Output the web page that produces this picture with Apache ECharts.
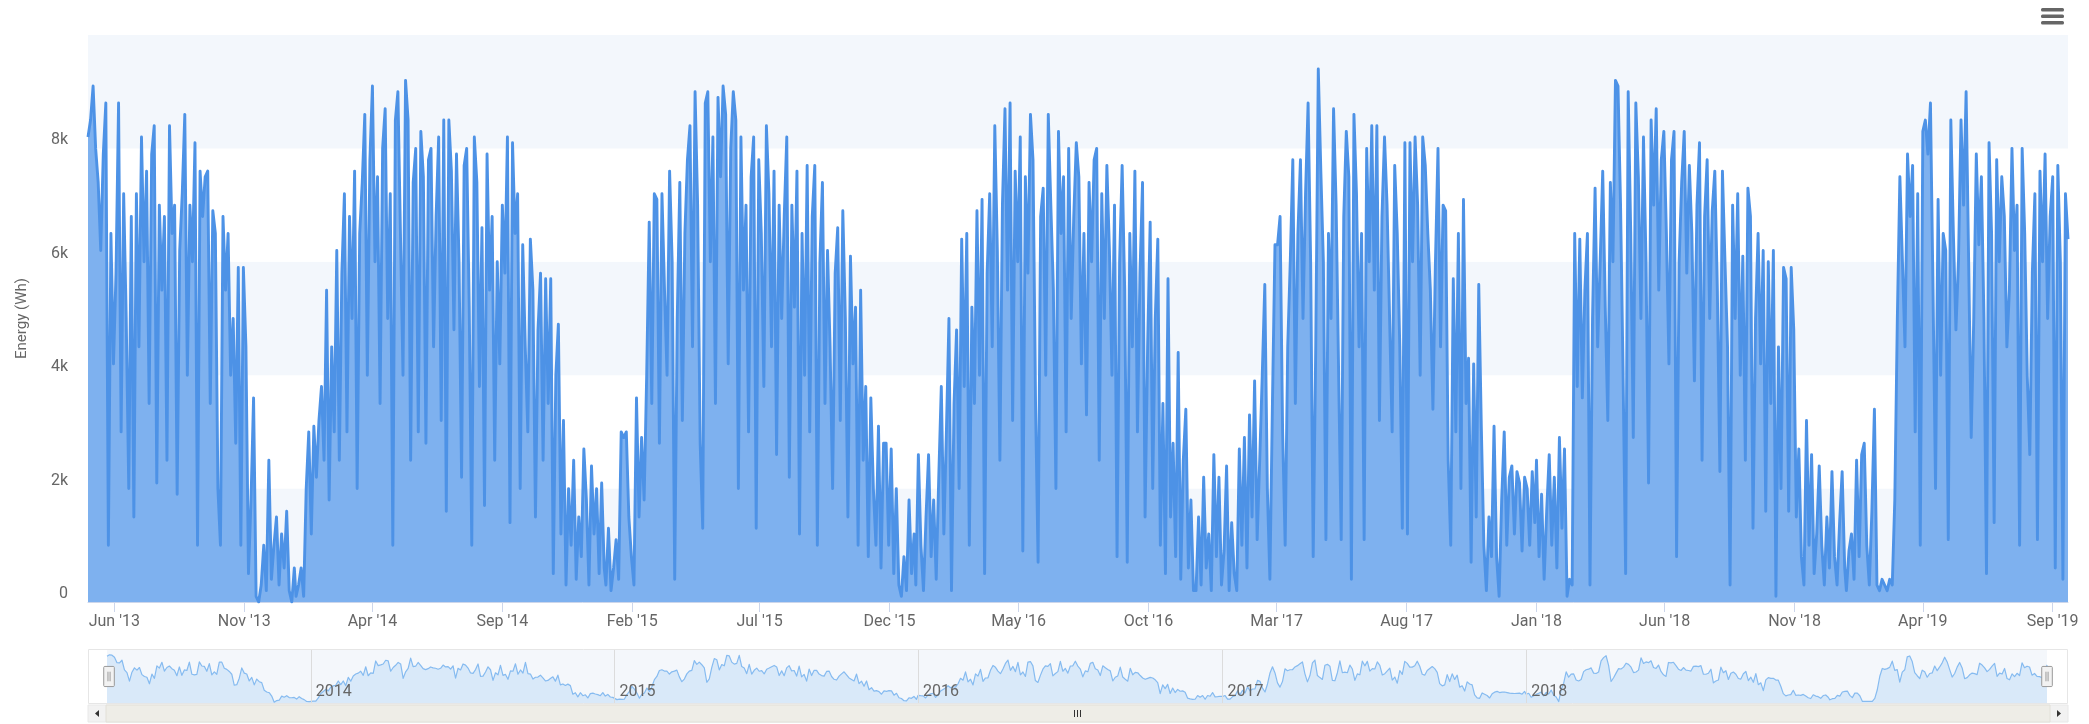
<!DOCTYPE html>
<html>
<head>
<meta charset="utf-8">
<script src="https://cdn.jsdelivr.net/npm/echarts@6/dist/echarts.min.js"></script>
<style>
html,body{margin:0;padding:0;background:#fff;}
#chart{width:2089px;height:724px;}
</style>
</head>
<body>
<div id="chart"></div>
<script>
const STEP_DAYS = 3;

// from 2013-05-01
const e2013 = [8.2,8.5,9.1,8.0,7.4,6.2,7.9,8.8,1.0,6.5,4.2,
  5.8,8.8,3.0,7.2,5.0,2.0,6.8,1.5,7.2,4.5,
  8.2,6.0,7.6,3.5,7.9,8.4,2.1,7.0,5.5,6.8,
  2.5,8.4,6.5,7.0,1.9,6.2,7.2,8.6,4.0,7.0,
  6.0,8.1,1.0,7.6,6.8,7.5,7.6,3.5,6.9,6.5,
  2.0,1.0,6.8,5.5,6.5,4.0,5.0,2.8,5.9,1.0,
  5.9,4.5,0.5,1.8,3.6,0.1,0.0,0.3,1.0,0.2,
  2.5,0.4,1.0,1.5,0.3,1.2,0.6,1.6,0.2,0.0,0.6];

// from 2014-01-01
const e2014 = [0.1,0.3,0.6,0.1,2.0,3.0,1.2,3.1,2.2,3.2,3.8,
  2.5,5.5,1.8,4.5,3.0,6.2,2.5,5.8,7.2,
  3.0,6.8,5.0,7.6,2.0,6.5,7.4,8.6,4.0,7.8,
  9.1,6.0,7.5,3.5,8.0,8.7,5.0,7.2,1.0,8.5,
  9.0,6.5,4.0,9.2,8.5,2.5,7.4,8.0,3.0,8.3,
  7.5,2.8,7.8,8.0,4.5,6.8,8.2,3.2,8.5,1.6,
  8.5,7.6,4.8,7.9,6.0,2.2,7.7,8.0,5.2,1.0,
  8.2,7.4,3.8,6.6,1.7,7.9,5.5,6.8,2.5,6.0,
  4.2,7.0,5.8,8.2,1.4,8.1,6.5,7.2,2.0,6.3,
  4.5,3.0,6.4,5.5,1.5,4.8,5.8,2.5,5.7,3.5,
  5.7,0.5,4.0,4.9,1.2,3.2,0.3,2.0,1.0,2.5,
  0.4,1.5,0.8,2.7,1.8,0.3,2.4,1.2,2.0,0.5,2.1,0.6];

// from 2015-01-01
const e2015 = [0.3,1.3,0.2,0.6,1.1,0.4,3.0,2.9,3.0,1.5,0.8,
  0.3,3.6,1.5,2.9,1.8,4.0,6.7,3.5,7.2,
  7.1,2.8,7.2,5.5,4.0,7.6,6.0,0.4,5.0,7.4,
  3.2,6.5,7.8,8.4,4.5,9.0,7.0,2.8,1.3,8.8,
  9.0,6.0,8.2,3.5,8.9,7.5,9.1,8.6,4.2,8.0,
  9.0,8.5,2.0,8.2,5.5,7.0,3.0,7.5,8.2,1.3,
  7.8,6.5,3.8,8.4,7.2,4.5,7.6,2.6,7.0,5.0,
  6.8,8.2,2.2,7.0,5.2,7.6,1.2,6.5,4.0,7.7,
  3.0,6.8,7.7,1.0,6.0,7.4,3.5,6.2,4.5,2.0,
  5.8,6.6,3.2,6.9,5.0,1.5,6.1,4.2,5.2,1.0,
  5.5,2.5,3.8,0.8,3.6,2.0,1.0,3.1,0.6,2.8,
  2.8,1.0,2.7,0.5,2.0,0.3,0.1,0.8,0.2,1.8,0.5,1.2];

// from 2016-01-01
const e2016 = [0.3,2.6,1.0,0.2,1.5,2.6,0.8,1.8,0.4,2.2,3.8,
  1.2,3.0,5.0,0.2,3.5,4.8,2.0,6.4,3.8,
  6.5,1.0,5.2,3.5,6.9,4.0,7.1,0.5,5.8,7.2,
  4.5,8.4,6.2,2.5,7.0,8.7,5.5,8.8,3.2,7.6,
  6.0,8.2,0.9,7.5,5.8,8.6,7.8,3.5,0.7,6.8,
  7.3,4.0,8.6,7.0,5.5,2.0,8.3,6.5,7.5,3.0,
  8.0,5.0,6.8,8.1,7.5,4.2,6.5,3.3,7.4,6.0,
  7.8,8.0,2.5,7.2,5.0,7.7,6.2,4.0,7.0,0.8,
  6.0,7.7,5.5,0.7,6.5,4.5,7.6,3.0,5.8,7.4,
  1.5,4.5,6.7,2.0,5.0,6.4,1.0,3.5,0.5,5.7,
  1.5,2.8,0.8,4.4,0.4,2.5,3.4,0.6,1.8,0.2,
  0.2,1.5,0.3,2.2,0.6,1.2,0.2,2.6,0.8,2.2,0.3,0.9];

// from 2017-01-01
const e2017 = [2.4,0.2,1.4,0.5,0.2,2.7,1.0,2.9,0.6,3.3,1.5,
  3.9,1.1,2.5,4.0,5.6,2.0,0.4,3.5,6.3,
  6.3,6.8,3.0,1.0,4.5,6.0,7.8,3.5,6.5,7.8,
  5.0,7.2,8.8,6.0,0.8,4.5,9.4,7.6,6.0,1.1,
  6.5,5.0,8.7,7.0,4.0,1.1,6.8,8.3,7.5,0.4,
  8.6,7.2,4.5,6.5,1.1,8.0,6.0,8.4,5.5,8.4,
  3.2,6.8,8.2,7.0,5.0,3.0,7.7,6.5,4.5,1.3,
  8.1,1.2,8.1,6.0,8.2,7.0,4.0,8.2,7.7,6.5,
  5.5,3.4,6.0,8.0,4.5,7.0,6.9,2.5,1.0,5.7,
  3.0,6.5,2.0,7.1,3.5,4.3,0.7,4.2,1.5,5.6,
  3.1,1.0,0.2,1.5,0.8,3.1,0.8,0.1,1.8,3.0,
  1.0,2.2,2.4,1.2,2.3,2.1,0.9,2.2,2.0,1.0,2.3,1.4];

// from 2018-01-01
const e2018 = [2.5,0.8,1.9,0.4,1.6,2.6,1.0,2.2,0.6,2.9,1.3,
  2.7,0.1,0.4,0.3,6.5,3.8,6.4,3.6,5.5,
  6.5,0.3,5.0,7.3,4.5,6.0,7.6,5.2,3.2,7.4,
  6.0,9.2,9.1,7.0,4.0,0.5,9.0,6.5,2.9,8.8,
  7.5,5.0,8.2,6.0,2.1,8.5,7.0,8.7,5.5,7.8,
  8.3,6.5,4.2,7.8,8.3,0.8,6.0,7.4,8.3,5.8,
  7.7,6.5,3.9,7.0,8.1,2.5,6.8,7.8,5.0,6.9,
  7.6,5.5,2.3,7.6,6.0,4.5,0.3,7.0,5.0,7.2,
  4.0,6.1,2.5,7.3,6.8,1.3,5.0,6.5,4.2,6.2,
  1.6,6.0,3.5,6.2,0.1,4.5,2.0,5.9,5.7,1.6,
  5.9,4.8,1.5,2.7,0.8,0.3,3.2,1.0,2.6,0.5,
  1.2,2.4,1.0,0.3,1.5,0.6,2.3,0.8,0.3,1.4,2.3,0.6];

// from 2019-01-01
const e2019 = [0.2,0.9,1.2,0.4,2.5,0.8,2.6,2.8,1.0,0.3,1.6,
  3.4,0.3,0.2,0.4,0.3,0.2,0.4,0.3,1.8,
  5.0,7.5,6.0,4.5,7.9,6.8,7.7,3.0,7.2,1.0,
  8.3,8.5,7.9,8.8,5.5,2.0,7.1,4.0,6.5,6.2,
  1.1,8.5,6.5,4.8,6.0,8.5,7.0,9.0,6.0,2.9,
  5.0,7.9,6.3,7.5,5.0,0.5,8.1,6.5,1.4,7.8,
  6.0,7.5,6.8,4.5,5.5,8.0,6.2,7.0,1.0,8.0,
  6.5,4.0,2.6,5.8,7.2,1.1,7.6,6.0,7.9,5.0,
  6.8,7.5,0.6,7.7,6.0,0.4,7.2,6.4];

const segmentStarts = ['2013-05-01','2014-01-01','2015-01-01','2016-01-01','2017-01-01','2018-01-01','2019-01-01'];
const segmentValues = [e2013, e2014, e2015, e2016, e2017, e2018, e2019];

const xTickMonths = ['2013-06','2013-11','2014-04','2014-09','2015-02','2015-07','2015-12','2016-05',
  '2016-10','2017-03','2017-08','2018-01','2018-06','2018-11','2019-04','2019-09'];
const navigatorYears = [2014, 2015, 2016, 2017, 2018];
const monthNames = ['Jan','Feb','Mar','Apr','May','Jun','Jul','Aug','Sep','Oct','Nov','Dec'];

const DAY = 86400000;
const points = [];
segmentStarts.forEach((s, k) => {
  const t0 = Date.parse(s + 'T00:00:00Z');
  segmentValues[k].forEach((v, i) => points.push([t0 + i * STEP_DAYS * DAY, Math.round(v * 1000)]));
});
const tMin = points[0][0];
const tMax = points[points.length - 1][0];

// navigator shows an averaged (grouped) view of the same series
const navPoints = points.map((p, i) => {
  let s = 0, n = 0;
  for (let j = i - 1; j <= i + 1; j++) { if (j >= 0 && j < points.length) { s += points[j][1]; n++; } }
  return [p[0], s / n];
});

const tickTs = xTickMonths.map(m => Date.parse(m + '-01T00:00:00Z'));
const yearTs = navigatorYears.map(y => Date.UTC(y, 0, 1));

const FONT = 'Roboto, "Noto Sans", Arial, sans-serif';
const chart = echarts.init(document.getElementById('chart'), null, {renderer: 'canvas'});

chart.setOption({
  animation: false,
  backgroundColor: '#ffffff',
  grid: [
    {left: 88, right: 21, top: 35, height: 567, outerBoundsMode: 'none'},
    {left: 107, right: 42, top: 650, height: 53, show: true, backgroundColor: '#f4f7fb', borderWidth: 0, outerBoundsMode: 'none'}
  ],
  xAxis: [
    {
      type: 'value', gridIndex: 0, min: tMin, max: tMax, scale: true,
      axisLine: {show: true, lineStyle: {color: '#ccd6eb', width: 1}},
      axisTick: {show: true, length: 10, lineStyle: {color: '#ccd6eb'}, customValues: tickTs},
      axisLabel: {
        customValues: tickTs, hideOverlap: false, color: '#666666', fontSize: 16, fontFamily: FONT, margin: 12,
        formatter: v => { const d = new Date(v); return monthNames[d.getUTCMonth()] + " '" + String(d.getUTCFullYear()).slice(2); }
      },
      splitLine: {show: false}
    },
    {
      type: 'value', gridIndex: 1, min: tMin, max: tMax, scale: true, z: 6,
      axisLine: {show: false},
      axisTick: {show: true, inside: true, length: 53, customValues: yearTs, lineStyle: {color: '#dcdcdc', width: 1}},
      axisLabel: {
        inside: true, customValues: yearTs, hideOverlap: false, align: 'left', padding: [0, 0, 0, 5],
        color: '#666666', fontSize: 16, fontFamily: FONT, margin: 3,
        formatter: v => String(new Date(v).getUTCFullYear())
      },
      splitLine: {show: false}
    }
  ],
  yAxis: [
    {
      type: 'value', gridIndex: 0, min: 0, max: 10000, interval: 2000,
      name: 'Energy (Wh)', nameLocation: 'middle', nameGap: 58,
      nameTextStyle: {color: '#666666', fontSize: 15, fontFamily: FONT},
      axisLine: {show: false}, axisTick: {show: false}, splitLine: {show: false},
      splitArea: {show: true, areaStyle: {color: ['#f3f7fc', '#ffffff']}},
      axisLabel: {
        color: '#666666', fontSize: 16, fontFamily: FONT, margin: 20, verticalAlign: 'bottom', showMaxLabel: false,
        formatter: v => v === 0 ? '0' : (v / 1000) + 'k'
      }
    },
    {type: 'value', gridIndex: 1, min: 0, max: v => v.max * 1.1, show: false}
  ],
  dataZoom: [{
    type: 'slider', xAxisIndex: [0], filterMode: 'none', start: 0, end: 100,
    left: 107, right: 42, top: 650, height: 53,
    showDataShadow: false, showDetail: false, brushSelect: false, moveHandleSize: 0,
    backgroundColor: 'rgba(0,0,0,0)', fillerColor: 'rgba(0,0,0,0)', borderColor: 'rgba(0,0,0,0)',
    handleIcon: 'path://M1,0 h8 a1,1 0 0 1 1,1 v17 a1,1 0 0 1 -1,1 h-8 a1,1 0 0 1 -1,-1 v-17 a1,1 0 0 1 1,-1 Z M4,5 v9 M6,5 v9',
    handleSize: '38%',
    handleStyle: {color: '#f2f2f2', borderColor: '#999999', borderWidth: 1},
    emphasis: {handleStyle: {color: '#f2f2f2', borderColor: '#999999'}}
  }],
  series: [
    {
      type: 'line', xAxisIndex: 0, yAxisIndex: 0, data: points,
      showSymbol: false, symbol: 'none',
      lineStyle: {color: '#4d92e6', width: 2.9, join: 'round'},
      areaStyle: {color: '#7eb1ef', opacity: 1},
      silent: true
    },
    {
      type: 'line', xAxisIndex: 1, yAxisIndex: 1, data: navPoints,
      showSymbol: false, symbol: 'none',
      lineStyle: {color: '#86bbf0', width: 1.2, join: 'round'},
      areaStyle: {color: '#d9e9f9', opacity: 1},
      silent: true
    }
  ],
  graphic: [
    {type: 'rect', shape: {x: 88.5, y: 649.5, width: 1979, height: 54}, style: {fill: 'none', stroke: '#e6e6e6', lineWidth: 1}, silent: true, z: 1},
    {type: 'rect', shape: {x: 88, y: 705, width: 1980, height: 17}, style: {fill: '#f2f2f2', stroke: '#e8e8e8'}, silent: true},
    {type: 'rect', shape: {x: 106, y: 705, width: 1944, height: 17}, style: {fill: '#eeede7', stroke: '#e2e0d8'}, silent: true},
    {type: 'polygon', shape: {points: [[99, 710], [99, 717], [95, 713.5]]}, style: {fill: '#333333'}, silent: true},
    {type: 'polygon', shape: {points: [[2057, 710], [2057, 717], [2061, 713.5]]}, style: {fill: '#333333'}, silent: true},
    {type: 'group', silent: true, children: [
      {type: 'line', shape: {x1: 1074.5, y1: 710, x2: 1074.5, y2: 717}, style: {stroke: '#333', lineWidth: 1}},
      {type: 'line', shape: {x1: 1077.5, y1: 710, x2: 1077.5, y2: 717}, style: {stroke: '#333', lineWidth: 1}},
      {type: 'line', shape: {x1: 1080.5, y1: 710, x2: 1080.5, y2: 717}, style: {stroke: '#333', lineWidth: 1}}
    ]},
    {type: 'group', silent: true, children: [
      {type: 'rect', shape: {x: 2041, y: 8, width: 23, height: 3.5, r: 1.5}, style: {fill: '#666666'}},
      {type: 'rect', shape: {x: 2041, y: 14.5, width: 23, height: 3.5, r: 1.5}, style: {fill: '#666666'}},
      {type: 'rect', shape: {x: 2041, y: 21, width: 23, height: 3.5, r: 1.5}, style: {fill: '#666666'}}
    ]}
  ]
});
</script>
</body>
</html>
